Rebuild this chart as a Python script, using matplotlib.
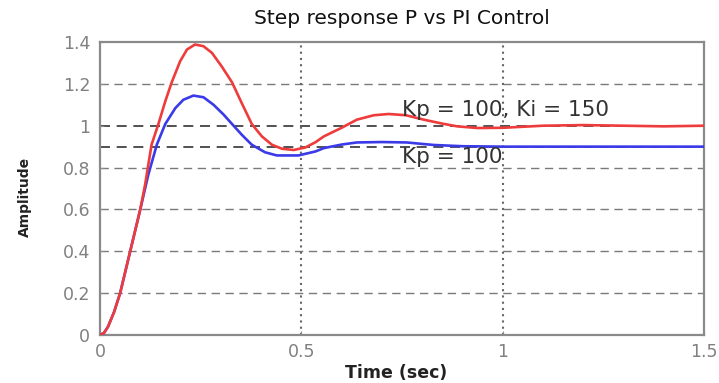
import matplotlib
matplotlib.use("Agg")
import matplotlib.pyplot as plt

# ---- data ----
t_pi = [0.0, 0.01, 0.02, 0.035, 0.05, 0.075, 0.1, 0.112, 0.128, 0.145, 0.162, 0.178,
        0.199, 0.216, 0.236, 0.257, 0.278, 0.302, 0.328, 0.352, 0.377, 0.402, 0.427,
        0.452, 0.481, 0.51, 0.535, 0.556, 0.6, 0.638, 0.68, 0.717, 0.76, 0.804, 0.85,
        0.887, 0.937, 1.0, 1.05, 1.1, 1.2, 1.3, 1.4, 1.5]
y_pi = [0.0, 0.01, 0.04, 0.11, 0.2, 0.4, 0.6, 0.718, 0.909, 1.008, 1.116, 1.207,
        1.308, 1.364, 1.388, 1.38, 1.348, 1.284, 1.207, 1.108, 1.008, 0.949, 0.909,
        0.89, 0.884, 0.896, 0.921, 0.949, 0.99, 1.029, 1.05, 1.056, 1.05, 1.029, 1.01,
        0.997, 0.989, 0.99, 0.995, 1.0, 1.003, 1.0, 0.997, 1.0]

t_p = [0.0, 0.01, 0.02, 0.035, 0.05, 0.075, 0.1, 0.12, 0.141, 0.162, 0.187, 0.207,
       0.232, 0.257, 0.282, 0.307, 0.328, 0.352, 0.377, 0.41, 0.439, 0.493, 0.535,
       0.556, 0.6, 0.638, 0.7, 0.762, 0.8, 0.829, 0.9, 1.0, 1.2, 1.5]
y_p = [0.0, 0.01, 0.04, 0.11, 0.2, 0.4, 0.6, 0.766, 0.909, 1.008, 1.084, 1.124,
       1.144, 1.136, 1.1, 1.053, 1.008, 0.957, 0.909, 0.873, 0.858, 0.858, 0.877,
       0.893, 0.91, 0.92, 0.922, 0.92, 0.913, 0.908, 0.902, 0.9, 0.9, 0.9]

ref_levels = [1.0, 0.9]
x_ticks = [0, 0.5, 1, 1.5]
x_tick_labels = ["0", "0.5", "1", "1.5"]
y_ticks = [0, 0.2, 0.4, 0.6, 0.8, 1, 1.2, 1.4]
y_tick_labels = ["0", "0.2", "0.4", "0.6", "0.8", "1", "1.2", "1.4"]
label_pi = "Kp = 100, Ki = 150"
label_p = "Kp = 100"

plt.rcParams['font.family'] = ['DejaVu Sans']

fig = plt.figure(figsize=(7.19, 3.83), dpi=100)
ax = fig.add_axes([100/719, 48/383, 604/719, 293/383])

gray = '#8a8a8a'
# horizontal dashed grid
for yv in [0.2, 0.4, 0.6, 0.8, 1.2]:
    ax.axhline(yv, color='#7a7a7a', lw=1.0, ls=(0, (6, 4)), zorder=1)
for yv in ref_levels:
    ax.axhline(yv, color='#333333', lw=1.2, ls=(0, (6, 4)), zorder=1)
# vertical dotted grid
for xv in [0.5, 1.0]:
    ax.axvline(xv, color='#666666', lw=1.5, ls=(0, (1, 2)), zorder=1)

ax.plot(t_p, y_p, color='#3a3ae8', lw=1.9, zorder=3)
ax.plot(t_pi, y_pi, color='#ee3b3b', lw=1.9, zorder=4)

ax.text(0.751, 1.077, label_pi, fontsize=15.5, color='#333333', va='center', ha='left', zorder=5)
ax.text(0.751, 0.852, label_p, fontsize=15.5, color='#333333', va='center', ha='left', zorder=5)

ax.set_xlim(0, 1.5)
ax.set_ylim(0, 1.4)
ax.set_xticks(x_ticks)
ax.set_xticklabels(x_tick_labels)
ax.set_yticks(y_ticks)
ax.set_yticklabels(y_tick_labels)
ax.tick_params(axis='both', direction='in', length=3, color=gray, labelcolor='#808080',
               labelsize=12.5)
ax.tick_params(axis='x', pad=6)
ax.tick_params(axis='y', pad=7)
for s in ax.spines.values():
    s.set_color(gray)
    s.set_linewidth(1.6)

ax.set_title("Step response P vs PI Control", fontsize=14.5, color='#111111', pad=13)
ax.set_xlabel("Time (sec)", fontsize=12.5, color='#222222', fontweight='bold')
ax.xaxis.set_label_coords(0.49, -0.1)
ax.set_ylabel("Amplitude", fontsize=10, color='#222222', fontweight='bold')
ax.yaxis.set_label_coords(-0.113, 0.47)

fig.savefig("out.png", dpi=100)
